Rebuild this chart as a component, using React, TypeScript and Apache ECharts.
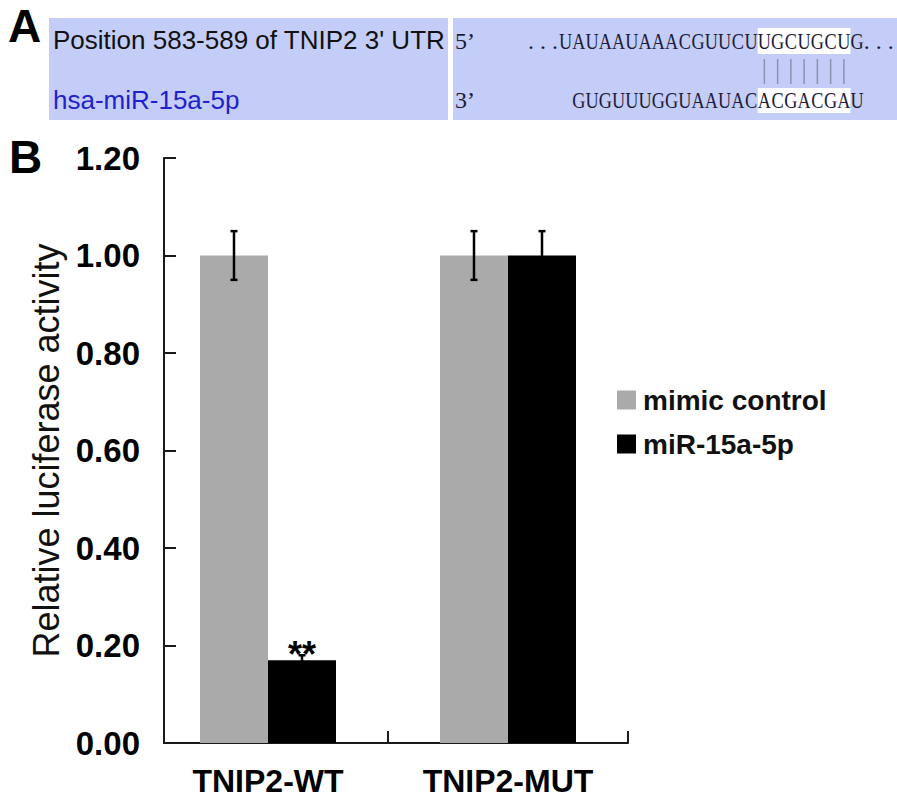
import React, { useEffect, useRef } from "react";
import * as echarts from "echarts";

const categories = ["TNIP2-WT", "TNIP2-MUT"];
const seriesNames = ["mimic control", "miR-15a-5p"];
const mimicControl = [1.0, 1.0];
const mir15a = [0.17, 1.0];
const mimicErr = [0.05, 0.05];
const mirErr = [0.01, 0.05];
const yMin = 0;
const yMax = 1.2;
const yInterval = 0.2;

const topLabel = "Position 583-589 of TNIP2 3' UTR";
const bottomLabel = "hsa-miR-15a-5p";
const utrSeq = "UAUAAUAAACGUUCUUGCUGCUG";
const mirSeq = "GUGUUUGGUAAUACACGACGAU";
const seedStart = 15;
const seedLen = 7;

const BAR_W = 68;

export default function App() {
  const ref = useRef<HTMLDivElement>(null);
  useEffect(() => {
    document.body.style.margin = "0";
    const chart = echarts.init(ref.current!, null, { renderer: "svg" });

    const step = 13.25;
    const seqX0 = 559;
    const seqFont = '24px "Liberation Serif"';
    const seqColor = "#1c1c3a";
    const topY = 41;
    const botY = 100;
    const g: any[] = [];
    g.push({ type: "rect", shape: { x: 49, y: 18, width: 399, height: 102 }, style: { fill: "#c4cdf7" } });
    g.push({ type: "rect", shape: { x: 453, y: 18, width: 444, height: 102 }, style: { fill: "#c4cdf7" } });
    g.push({ type: "rect", shape: { x: seqX0 + seedStart * step, y: 28, width: seedLen * step, height: 26 }, style: { fill: "#ffffff" } });
    g.push({ type: "rect", shape: { x: seqX0 + seedStart * step, y: 88, width: seedLen * step, height: 25 }, style: { fill: "#ffffff" } });
    const txt = (text: string, x: number, y: number, font: string, fill: string, align = "left", extra: any = {}) => ({
      type: "text",
      x,
      y,
      ...extra,
      style: { text, font, fill, align, textAlign: align, verticalAlign: "middle", textVerticalAlign: "middle" },
    });
    g.push(txt("A", 8, 26, 'bold 46px "Liberation Sans"', "#000"));
    g.push(txt("B", 9, 157, 'bold 46px "Liberation Sans"', "#000"));
    g.push(txt(topLabel, 53, 40, '26px "Liberation Sans"', "#111"));
    g.push(txt(bottomLabel, 53, 100, '26px "Liberation Sans"', "#1e22cc"));
    g.push(txt("5\u2019", 455, topY, seqFont, seqColor));
    g.push(txt("3\u2019", 455, botY, seqFont, seqColor));
    g.push(txt(". . .", seqX0 - 1, topY, seqFont, seqColor, "right"));
    g.push(txt(". . .", seqX0 + utrSeq.length * step, topY, seqFont, seqColor, "left"));
    utrSeq.split("").forEach((ch, i) => {
      g.push(txt(ch, seqX0 + (i + 0.5) * step, topY, seqFont, seqColor, "center", { scaleX: 0.76 }));
    });
    mirSeq.split("").forEach((ch, i) => {
      g.push(txt(ch, seqX0 + step + (i + 0.5) * step, botY, seqFont, seqColor, "center", { scaleX: 0.76 }));
    });
    for (let i = 0; i < seedLen; i++) {
      const x = seqX0 + (seedStart + i + 0.5) * step;
      g.push({ type: "line", shape: { x1: x, y1: 59, x2: x, y2: 84 }, style: { stroke: "#8a93ad", lineWidth: 1.5 } });
    }
    g.push({ type: "rect", z: 100, shape: { x: 142, y: 725, width: 21, height: 26 }, style: { fill: "#ffffff" } });

    const errSeries = (vals: number[], errs: number[], offset: number) => ({
      type: "custom",
      z: 5,
      silent: true,
      data: vals.map((v, i) => [i, v, errs[i]]),
      renderItem: (params: any, api: any) => {
        const idx = api.value(0);
        const v = api.value(1);
        const e = api.value(2);
        const c = api.coord([idx, v]);
        const hi = api.coord([idx, v + e]);
        const lo = api.coord([idx, v - e]);
        const x = c[0] + offset;
        const hw = 3.5;
        const st = { stroke: "#000", lineWidth: 2.5 };
        return {
          type: "group",
          children: [
            { type: "line", shape: { x1: x, y1: hi[1], x2: x, y2: lo[1] }, style: st },
            { type: "line", shape: { x1: x - hw, y1: hi[1], x2: x + hw, y2: hi[1] }, style: st },
            { type: "line", shape: { x1: x - hw, y1: lo[1], x2: x + hw, y2: lo[1] }, style: st },
          ],
        };
      },
    });

    chart.setOption({
      animation: false,
      graphic: g,
      grid: { left: 148, top: 158, width: 480, bottom: 56, containLabel: false },
      legend: {
        orient: "vertical",
        left: 612,
        top: 381,
        itemWidth: 19,
        itemHeight: 19,
        itemGap: 16,
        icon: "rect",
        data: seriesNames,
        textStyle: { fontFamily: "Liberation Sans", fontWeight: "bold", fontSize: 28, color: "#111", padding: [0, 0, 0, 2] },
      },
      xAxis: {
        type: "category",
        data: categories,
        axisLine: { lineStyle: { color: "#1a1a1a", width: 2 } },
        axisTick: { show: true, inside: true, length: 12, lineStyle: { color: "#1a1a1a", width: 2 } },
        axisLabel: { fontFamily: "Liberation Sans", fontWeight: "bold", fontSize: 32, color: "#000", margin: 22 },
      },
      yAxis: {
        type: "value",
        min: yMin,
        max: yMax,
        interval: yInterval,
        offset: -16,
        splitLine: { show: false },
        axisLine: { show: true, lineStyle: { color: "#1a1a1a", width: 2 } },
        axisTick: { show: true, inside: true, length: 12, lineStyle: { color: "#1a1a1a", width: 2 } },
        axisLabel: {
          fontFamily: "Liberation Sans",
          fontWeight: "bold",
          fontSize: 33,
          color: "#000",
          margin: 24,
          formatter: (v: number) => v.toFixed(2),
        },
        name: "Relative luciferase activity",
        nameLocation: "middle",
        nameGap: 92,
        nameTextStyle: { fontFamily: "Liberation Sans", fontSize: 36, color: "#111" },
      },
      series: [
        {
          name: seriesNames[0],
          type: "bar",
          data: mimicControl,
          barWidth: BAR_W,
          barGap: "0%",
          itemStyle: { color: "#aaaaaa" },
        },
        {
          name: seriesNames[1],
          type: "bar",
          barWidth: BAR_W,
          barGap: "0%",
          itemStyle: { color: "#000000" },
          data: mir15a.map((v, i) =>
            i === 0
              ? {
                  value: v,
                  label: {
                    show: true,
                    position: "top",
                    distance: -12,
                    formatter: "**",
                    fontFamily: "Liberation Sans",
                    fontWeight: "bold",
                    fontSize: 36,
                    color: "#000",
                  },
                }
              : v
          ),
        },
        errSeries(mimicControl, mimicErr, -BAR_W / 2),
        errSeries(mir15a, mirErr, BAR_W / 2),
      ],
    });
    return () => chart.dispose();
  }, []);
  return <div ref={ref} style={{ width: 897, height: 799 }} />;
}
